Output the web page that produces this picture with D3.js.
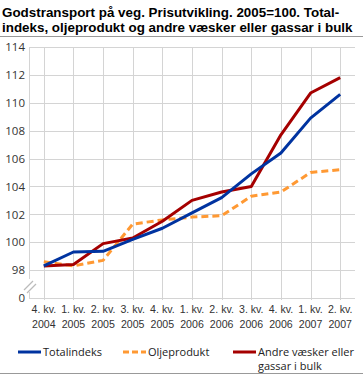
<!DOCTYPE html>
<html lang="no">
<head>
<meta charset="UTF-8">
<title>Godstransport på veg</title>
<script src="https://d3js.org/d3.v7.min.js"></script>
<style>
  body { margin: 0; background: #fff; }
  svg { display: block; font-family: "Open Sans", "DejaVu Sans", sans-serif; }
</style>
</head>
<body>
<div id="chart"></div>
<script>
// quarters on the x axis (two-line labels)
const quarters = ["4. kv.|2004", "1. kv.|2005", "2. kv.|2005", "3. kv.|2005", "4. kv.|2005",
  "1. kv.|2006", "2. kv.|2006", "3. kv.|2006", "4. kv.|2006", "1. kv.|2007", "2. kv.|2007"];

// series
const totalindeks = [98.3, 99.3, 99.35, 100.2, 101.0, 102.1, 103.2, 104.9, 106.4, 108.9, 110.6];
const oljeprodukt = [98.6, 98.3, 98.7, 101.3, 101.6, 101.8, 101.9, 103.3, 103.6, 105.0, 105.2];
const andreVaesker = [98.3, 98.4, 99.9, 100.3, 101.5, 103.0, 103.6, 104.0, 107.7, 110.7, 111.8];

// y tick values; 96 stands in for the broken-axis "0"
const yTicks = [96, 98, 100, 102, 104, 106, 108, 110, 112, 114];

const width = 363, height = 377;
const m = { left: 29, right: 355, top: 47, bottom: 298 };

const svg = d3.select("#chart").append("svg")
  .attr("width", width).attr("height", height);

// title, two lines
const titleLines = ["Godstransport på veg. Prisutvikling. 2005=100. Total-",
  "indeks, oljeprodukt og andre væsker eller gassar i bulk"];
svg.append("g").selectAll("text").data(titleLines).join("text")
  .attr("x", 2).attr("y", (d, i) => 16.5 + i * 15.5)
  .attr("font-family", "\"Liberation Sans\", Arial, sans-serif")
  .attr("font-size", 13.4).attr("font-weight", "bold").attr("fill", "#000")
  .text(d => d);

svg.append("line").attr("x1", 0).attr("x2", 363).attr("y1", 36.5).attr("y2", 36.5)
  .attr("stroke", "#999").attr("stroke-width", 1);
svg.append("line").attr("x1", 0).attr("x2", 363).attr("y1", 373.5).attr("y2", 373.5)
  .attr("stroke", "#999").attr("stroke-width", 1);

const x = d3.scaleBand().domain(quarters).range([m.left, m.right]);
const xc = d => x(d) + x.bandwidth() / 2;
const y = d3.scaleLinear().domain([96, 114]).range([m.bottom, m.top]);

// horizontal grid
svg.append("g").selectAll("line").data(yTicks).join("line")
  .attr("x1", m.left).attr("x2", m.right)
  .attr("y1", d => Math.round(y(d)) + 0.5).attr("y2", d => Math.round(y(d)) + 0.5)
  .attr("stroke", "#d4d4d4").attr("stroke-width", 1);

// vertical grid at each quarter
svg.append("g").selectAll("line").data(quarters).join("line")
  .attr("x1", d => Math.round(xc(d)) + 0.5).attr("x2", d => Math.round(xc(d)) + 0.5)
  .attr("y1", m.top).attr("y2", m.bottom + 2)
  .attr("stroke", "#d4d4d4").attr("stroke-width", 1);

// y axis line with a gap for the break
svg.append("line").attr("x1", m.left + 0.5).attr("x2", m.left + 0.5)
  .attr("y1", m.top).attr("y2", 279).attr("stroke", "#d4d4d4");
svg.append("line").attr("x1", m.left + 0.5).attr("x2", m.left + 0.5)
  .attr("y1", 292).attr("y2", m.bottom + 1).attr("stroke", "#d4d4d4");
// break marks
[0, 3].forEach(o => {
  svg.append("line").attr("x1", 24 + o).attr("y1", 290 + o).attr("x2", 33 + o).attr("y2", 281 + o)
    .attr("stroke", "#bbb").attr("stroke-width", 1.2);
});

// y axis labels
const yAxis = d3.axisLeft(y).tickValues(yTicks)
  .tickFormat(d => d === 96 ? "0" : d).tickSize(0).tickPadding(4);
const gy = svg.append("g").attr("transform", `translate(${m.left},0)`).call(yAxis);
gy.select(".domain").remove();
gy.selectAll("text").attr("font-size", 11.5).attr("fill", "#333")
  .attr("font-family", "\"Open Sans\", sans-serif");

// x axis labels
const xAxis = d3.axisBottom(x).tickSize(0).tickFormat("");
const gx = svg.append("g").attr("transform", `translate(0,${m.bottom})`).call(xAxis);
gx.select(".domain").remove();
gx.selectAll(".tick").each(function(d) {
  const parts = d.split("|");
  const t = d3.select(this).append("text").attr("text-anchor", "middle")
    .attr("font-size", 10.6).attr("fill", "#333");
  t.append("tspan").attr("x", 0).attr("y", 15).text(parts[0]);
  t.append("tspan").attr("x", 0).attr("y", 30).text(parts[1]);
});

// lines
const series = [
  { name: "Oljeprodukt", values: oljeprodukt, color: "#ff9933", dash: "7,4" },
  { name: "Totalindeks", values: totalindeks, color: "#0033a0", dash: null },
  { name: "Andre væsker eller gassar i bulk", values: andreVaesker, color: "#a50000", dash: null }
];
const line = d3.line().x((d, i) => xc(quarters[i])).y(d => y(d));
const drawOrder = [series[0], series[2], series[1]];
drawOrder.forEach(s => {
  svg.append("path").datum(s.values).attr("d", line)
    .attr("fill", "none").attr("stroke", s.color).attr("stroke-width", 3)
    .attr("stroke-dasharray", s.dash).attr("stroke-linejoin", "round");
});

// legend
const legend = [
  { label: ["Totalindeks"], color: "#0033a0", dash: null, x: 18 },
  { label: ["Oljeprodukt"], color: "#ff9933", dash: "6,3", x: 123 },
  { label: ["Andre væsker eller", "gassar i bulk"], color: "#a50000", dash: null, x: 233 }
];
legend.forEach(l => {
  const g = svg.append("g").attr("transform", `translate(${l.x},352)`);
  g.append("line").attr("x1", 0).attr("x2", 23).attr("y1", 0).attr("y2", 0)
    .attr("stroke", l.color).attr("stroke-width", 3).attr("stroke-dasharray", l.dash);
  const t = g.append("text").attr("font-size", 11).attr("fill", "#222");
  l.label.forEach((s, i) => t.append("tspan").attr("x", 25).attr("y", 4 + i * 14).text(s));
});
</script>
</body>
</html>
